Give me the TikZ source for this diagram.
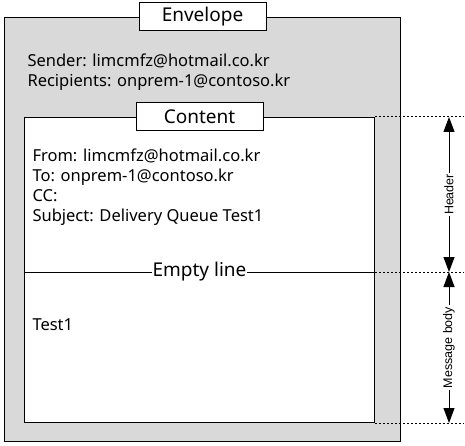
\documentclass[tikz,border=0pt]{standalone}
\usepackage{fontspec}
\setmainfont{Noto Sans}
\newfontfamily\rulerfont{Liberation Sans}
\usetikzlibrary{arrows.meta,positioning}
\definecolor{envgray}{RGB}{217,217,217}
\tikzset{
  tagbox/.style={draw,fill=white,minimum width=127pt,minimum height=28pt,inner sep=0pt,font=\fontsize{19}{20}\selectfont},
  txt/.style={anchor=base west,inner sep=0pt,font=\fontsize{16.5}{20}\selectfont},
  guide/.style={dash pattern=on 2pt off 2pt},
  span/.style={{Triangle[length=15pt,width=11pt]}-{Triangle[length=15pt,width=11pt]}},
  sidelabel/.style={fill=white,rotate=90,inner sep=1.5pt,font=\rulerfont\fontsize{12.5}{13}\selectfont}
}
\begin{document}
\begin{tikzpicture}[x=1pt,y=-1pt,line width=1pt]
  \useasboundingbox (0,0) rectangle (465,446);
  % envelope and content boxes
  \node[draw,fill=envgray,anchor=north west,inner sep=0pt,minimum width=396pt,minimum height=424pt] (envelope) at (4,17) {};
  \node[tagbox] (envtag) at (envelope.north) {Envelope};
  \node[txt] (sender) at (27,67) {Sender: limcmfz@hotmail.co.kr};
  \node[txt] (rcpt) at (27,87) {Recipients: onprem-1@contoso.kr};
  \node[draw,fill=white,anchor=north west,inner sep=0pt,minimum width=350pt,minimum height=305pt] (content) at (24,117) {};
  \node[tagbox] (conttag) at (content.north) {Content};
  % header lines
  \foreach \i/\line in {0/From: limcmfz@hotmail.co.kr, 1/To: onprem-1@contoso.kr, 2/CC:, 3/Subject: Delivery Queue Test1} {
      \node[txt] (hdr\i) at (32,162+20*\i) {\line};
  }
  \node[txt] (body) at (32,330) {Test1};
  % empty line
  \path (content.north west) ++(0,155) coordinate (splitL);
  \path (content.north east) ++(0,155) coordinate (splitR);
  \draw (splitL) -- node[fill=white,inner sep=1pt,font=\fontsize{19}{20}\selectfont] (emptytag) {Empty line} (splitR);
  % guides on the right
  \coordinate (edge) at (464,0);
  \coordinate (ruler) at (449,0);
  \draw[guide] (content.north east) -- (content.north east -| edge);
  \draw[guide] (splitR) -- (splitR -| edge);
  \draw[guide] (content.south east) -- (content.south east -| edge);
  \draw[span] (content.north east -| ruler) -- node[sidelabel] (hdrtag) {Header} (splitR -| ruler);
  \draw[span] (splitR -| ruler) -- node[sidelabel] (bodytag) {Message body} (content.south east -| ruler);
\end{tikzpicture}
\end{document}
